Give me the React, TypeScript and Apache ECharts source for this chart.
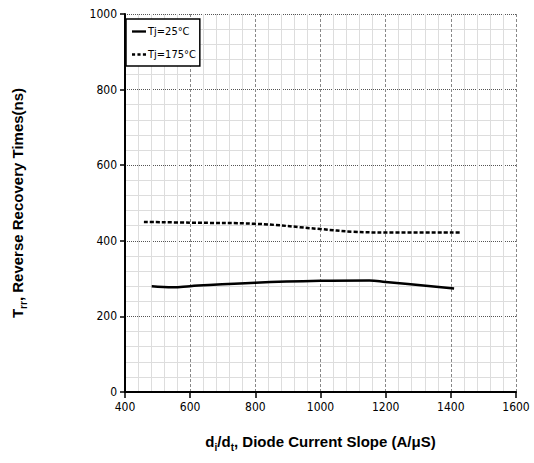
import React, { useEffect, useRef } from "react";
import * as echarts from "echarts";

const xTicks = [400, 600, 800, 1000, 1200, 1400, 1600];
const yTicks = [0, 200, 400, 600, 800, 1000];

const s25x = [482, 547, 600, 800, 1000, 1150, 1200, 1410];
const s25y = [280, 277, 280, 289, 294, 295, 291, 274];

const s175x = [458, 600, 800, 1000, 1100, 1200, 1430];
const s175y = [450, 448, 445, 431, 424, 422, 422];

const seriesNames = ["Tj=25°C", "Tj=175°C"];

export default function App() {
  const ref = useRef<HTMLDivElement>(null);
  useEffect(() => {
    if (!ref.current) return;
    const chart = echarts.init(ref.current, null, { renderer: "svg" });
    const narrow = "'DejaVu Sans Condensed', 'Liberation Sans Narrow', sans-serif";
    const bold = "'Liberation Sans', Arial, sans-serif";
    chart.setOption({
      animation: false,
      backgroundColor: "#fff",
      grid: { left: 125, right: 18, top: 14, bottom: 71 },
      legend: {
        orient: "vertical",
        left: 126,
        top: 19,
        itemWidth: 14,
        itemHeight: 3,
        itemGap: 12,
        padding: [7, 4, 6, 6],
        borderColor: "#000",
        borderWidth: 1.5,
        backgroundColor: "#fff",
        textStyle: { fontFamily: narrow, fontSize: 11, color: "#000", padding: [0, 0, 0, -3] },
        data: [
          { name: seriesNames[0], icon: "path://M0,0h18v3h-18z" },
          { name: seriesNames[1], icon: "path://M0,0h4v3h-4zM7,0h4v3h-4zM14,0h4v3h-4z" },
        ],
      },
      xAxis: {
        type: "value",
        min: xTicks[0],
        max: xTicks[xTicks.length - 1],
        interval: 200,
        name: "{b|d}{s|i}{b|/d}{s|t}{b|, Diode Current Slope (A/μS)}",
        nameLocation: "middle",
        nameGap: 39,
        nameTextStyle: {
          rich: {
            b: { fontFamily: bold, fontWeight: "bold", fontSize: 15, color: "#000", lineHeight: 18, verticalAlign: "bottom" },
            s: { fontFamily: bold, fontWeight: "bold", fontSize: 10, color: "#000", lineHeight: 10, verticalAlign: "bottom", padding: [0, 0, -3, 0] },
          },
        },
        axisLine: { show: true, lineStyle: { color: "#000", width: 2 } },
        axisTick: { show: true, length: 6, lineStyle: { color: "#000", width: 1.5 } },
        axisLabel: { fontFamily: narrow, fontSize: 12, color: "#000", margin: 9, formatter: (v: number) => String(v) },
        splitLine: { show: true, lineStyle: { color: "#888", type: [3, 2], width: 1 } },
        minorTick: { show: false, splitNumber: 5 },
        minorSplitLine: { show: true, lineStyle: { color: "#ddd", width: 1 } },
      },
      yAxis: {
        type: "value",
        min: yTicks[0],
        max: yTicks[yTicks.length - 1],
        interval: 200,
        name: "{b|T}{s|rr}{b|, Reverse Recovery Times(ns)}",
        nameLocation: "middle",
        nameRotate: 90,
        nameGap: 100,
        nameTextStyle: {
          rich: {
            b: { fontFamily: bold, fontWeight: "bold", fontSize: 15, color: "#000", lineHeight: 18, verticalAlign: "bottom" },
            s: { fontFamily: bold, fontWeight: "bold", fontSize: 10, color: "#000", lineHeight: 10, verticalAlign: "bottom", padding: [0, 0, -3, 0] },
          },
        },
        axisLine: { show: true, lineStyle: { color: "#000", width: 2 } },
        axisTick: { show: true, length: 5, lineStyle: { color: "#000", width: 1.5 } },
        axisLabel: { fontFamily: narrow, fontSize: 12, color: "#000", margin: 8, formatter: (v: number) => String(v) },
        splitLine: { show: true, lineStyle: { color: "#555", type: [1, 1], width: 1 } },
        minorTick: { show: false, splitNumber: 5 },
        minorSplitLine: { show: true, lineStyle: { color: "#ddd", width: 1 } },
      },
      series: [
        {
          name: seriesNames[0],
          type: "line",
          smooth: 0.4,
          symbol: "none",
          lineStyle: { color: "#000", width: 2.5 },
          itemStyle: { color: "#000" },
          data: s25x.map((x, i) => [x, s25y[i]]),
        },
        {
          name: seriesNames[1],
          type: "line",
          smooth: 0.4,
          symbol: "none",
          lineStyle: { color: "#000", width: 2.5, type: [4, 2] },
          itemStyle: { color: "#000" },
          data: s175x.map((x, i) => [x, s175y[i]]),
        },
      ],
    });
    return () => chart.dispose();
  }, []);
  return <div ref={ref} style={{ width: 534, height: 463, position: "absolute", left: 0, top: 0 }} />;
}
